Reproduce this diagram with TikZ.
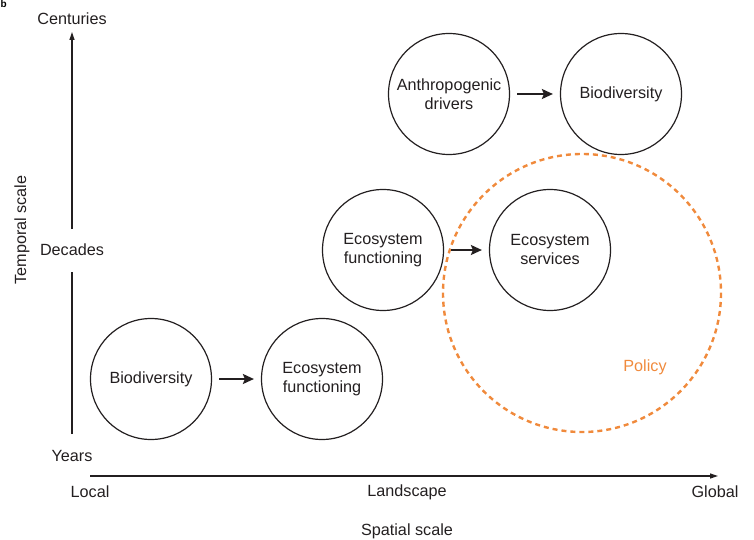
\documentclass[tikz,border=0pt]{standalone}
\usepackage{fontspec}
\setmainfont{Liberation Sans}
\usetikzlibrary{arrows.meta}
\definecolor{policyorange}{RGB}{240,138,60}
\definecolor{inkgray}{RGB}{35,31,32}
\tikzset{
  scalecircle/.style={draw=inkgray, line width=1.2pt, circle, minimum size=121pt,
    inner sep=0pt, align=center, text=inkgray, font=\fontsize{16.2}{19}\selectfont},
  flowarrow/.style={-{Stealth[length=11pt,width=10pt,inset=2pt]}, line width=2pt, draw=inkgray,
    shorten <=7pt, shorten >=7pt},
  axisline/.style={line width=1.2pt, draw=inkgray},
  axislabel/.style={text=inkgray, font=\fontsize{16.2}{19}\selectfont, inner sep=0pt},
}
\begin{document}
\begin{tikzpicture}[x=1pt,y=-1pt]
  \useasboundingbox (0,0) rectangle (754,540);

  % Panel letter
  \node [anchor=north west, inner sep=0pt, font=\bfseries\fontsize{10}{10}\selectfont] (panel) at (0.5,0.5) {b};

  % Temporal axis
  \coordinate (tlow) at (72,434);
  \coordinate (tmidlow) at (72,272);
  \coordinate (tmidhigh) at (72,229);
  \coordinate (ttop) at (72,32);
  \draw [axisline] (tlow) -- (tmidlow);
  \draw [axisline, -{Triangle[length=8pt,width=5pt]}] (tmidhigh) -- (ttop);
  \node [axislabel] (years) at (72,456) {Years};
  \node [axislabel] (decades) at (72,250) {Decades};
  \node [axislabel] (centuries) at (72,19) {Centuries};
  \node [axislabel, rotate=90] (temporal) at (22,230) {Temporal scale};

  % Spatial axis
  \coordinate (sleft) at (90,476);
  \coordinate (sright) at (718,476);
  \draw [axisline, -{Triangle[length=8pt,width=5pt]}] (sleft) -- (sright);
  \node [axislabel] (local) at (90,492) {Local};
  \node [axislabel] (landscape) at (407,492) {Landscape};
  \node [axislabel] (global) at (715,492) {Global};
  \node [axislabel] (spatial) at (407,531) {Spatial scale};

  % Policy circle
  \draw [policyorange, line width=2.4pt, dash pattern=on 5pt off 4pt] (582,293) circle (139);
  \node [axislabel, text=policyorange] (policy) at (645,367) {Policy};

  % Years: local to landscape
  \node [scalecircle] (biolocal) at (151,379) {Biodiversity};
  \node [scalecircle] (funclocal) at (322,379) {Ecosystem\\functioning};
  \draw [flowarrow] (biolocal) -- (funclocal);

  % Decades: landscape
  \node [scalecircle] (funcland) at (383,250) {Ecosystem\\functioning};
  \node [scalecircle] (services) at (550,250) {Ecosystem\\services};
  \draw [flowarrow] (funcland) -- (services);

  % Centuries: landscape to global
  \node [scalecircle] (drivers) at (449,94) {Anthropogenic\\drivers};
  \node [scalecircle] (bioglobal) at (621,94) {Biodiversity};
  \draw [flowarrow] (drivers) -- (bioglobal);
\end{tikzpicture}
\end{document}
